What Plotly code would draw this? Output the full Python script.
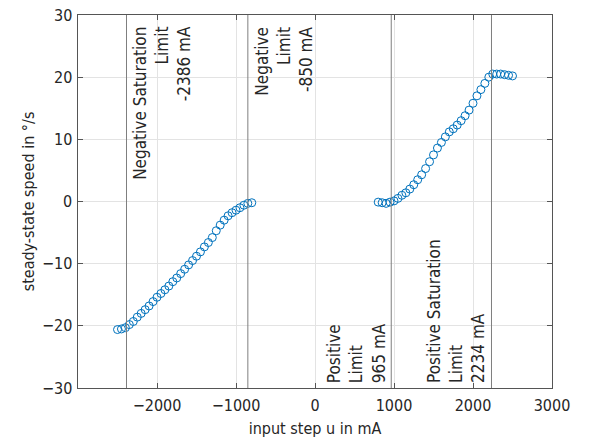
import plotly.graph_objects as go

# ---- data ----
neg_u = list(range(-2500, -750, 50))
neg_speed = [-20.6, -20.5, -20.3, -19.8, -19.3, -18.6, -18.0, -17.4, -16.8, -16.1,
             -15.4, -14.8, -14.2, -13.6, -12.9, -12.3, -11.6, -10.9, -10.2, -9.5,
             -8.8, -8.1, -7.3, -6.6, -5.8, -4.7, -3.8, -3.0, -2.3, -1.8,
             -1.4, -1.0, -0.6, -0.3, -0.2]
pos_u = list(range(800, 2550, 50))
pos_speed = [-0.1, -0.2, -0.3, -0.1, 0.1, 0.5, 1.0, 1.4, 2.0, 2.7,
             3.5, 4.3, 5.3, 6.4, 7.5, 8.6, 9.5, 10.4, 11.2, 11.7,
             12.3, 13.0, 13.8, 14.7, 15.8, 17.0, 18.0, 19.0, 20.0, 20.5,
             20.5, 20.5, 20.4, 20.3, 20.2]

limit_u = [-2386, -850, 965, 2234]
limit_labels = ["Negative Saturation<br>Limit<br>-2386 mA",
                "Negative<br>Limit<br>-850 mA",
                "Positive<br>Limit<br>965 mA",
                "Positive Saturation<br>Limit<br>2234 mA"]
x_ticks = [-2000, -1000, 0, 1000, 2000, 3000]
y_ticks = [-30, -20, -10, 0, 10, 20, 30]

FONT = "DejaVu Sans Condensed, DejaVu Sans, sans-serif"
BLUE = "#0072BD"
TXT = "#262626"

fig = go.Figure()
for xs, ys in [(neg_u, neg_speed), (pos_u, pos_speed)]:
    fig.add_trace(go.Scatter(
        x=xs, y=ys, mode="markers",
        marker=dict(symbol="circle-open", size=8, color=BLUE, line=dict(width=1)),
        showlegend=False))

for u, lab in zip(limit_u, limit_labels):
    fig.add_shape(type="line", xref="x", yref="paper", x0=u, x1=u, y0=0, y1=1,
                  line=dict(color="#7f7f7f", width=1))
    if u < 0:
        fig.add_annotation(x=u, y=28.5, xref="x", yref="y", text=lab, showarrow=False,
                           textangle=-90, xanchor="left", yanchor="top", align="right",
                           xshift=2, font=dict(family=FONT, size=17, color=TXT))
    else:
        fig.add_annotation(x=u, y=-29.5, xref="x", yref="y", text=lab, showarrow=False,
                           textangle=-90, xanchor="right", yanchor="bottom", align="left",
                           xshift=-1, font=dict(family=FONT, size=17, color=TXT))

# y tick labels placed close to the axis, as in the reference
for v in y_ticks:
    fig.add_annotation(x=0, xref="paper", y=v, yref="y", text=str(v).replace("-", "\u2212"),
                       showarrow=False, xanchor="right", yanchor="middle", xshift=-4,
                       font=dict(family=FONT, size=16, color=TXT))

axis_common = dict(showline=True, mirror="ticks", linecolor="#555555", linewidth=1,
                   ticks="inside", ticklen=5, tickcolor="#555555", automargin=False,
                   ticklabeloverflow="allow",
                   showgrid=True, gridcolor="#e3e3e3", gridwidth=1, zeroline=False,
                   tickfont=dict(family=FONT, size=16, color=TXT))

fig.update_xaxes(range=[-3000, 3000], tickvals=x_ticks, ticklabelstandoff=3,
                 title=dict(text="input step u in mA", standoff=8,
                            font=dict(family=FONT, size=16, color=TXT)),
                 **axis_common)
fig.update_yaxes(range=[-30, 30], tickvals=y_ticks, showticklabels=False,
                 title=dict(text="steady-state speed in °/s", standoff=38,
                            font=dict(family=FONT, size=16, color=TXT)),
                 **axis_common)

fig.update_layout(width=590, height=445, margin=dict(l=78, r=38, t=15, b=57),
                  plot_bgcolor="white", paper_bgcolor="white",
                  font=dict(family=FONT, size=16, color=TXT))

fig.write_html("out.html", config={"displayModeBar": False},
               post_script="document.body.style.margin='0';")
